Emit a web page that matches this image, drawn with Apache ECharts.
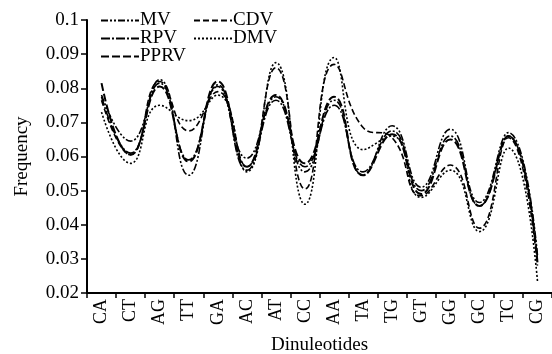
<!DOCTYPE html>
<html><head><meta charset="utf-8">
<script src="https://cdn.jsdelivr.net/npm/echarts@6/dist/echarts.min.js"></script>
<style>html,body{margin:0;padding:0;background:#fff}#c{width:552px;height:354px}</style>
</head><body><div id="c"></div>
<script>
var categories = ['CA','CT','AG','TT','GA','AC','AT','CC','AA','TA','TG','GT','GG','GC','TC','CG'];
var MV   = [0.078, 0.0645, 0.0825, 0.0545, 0.0805, 0.0595, 0.0775, 0.0555, 0.0765, 0.0545, 0.069, 0.051, 0.068, 0.0465, 0.067, 0.031];
var RPV  = [0.0775, 0.061, 0.0815, 0.059, 0.081, 0.056, 0.0765, 0.057, 0.075, 0.0555, 0.0675, 0.050, 0.066, 0.0455, 0.066, 0.030];
var PPRV = [0.0815, 0.0605, 0.0805, 0.0585, 0.082, 0.057, 0.078, 0.058, 0.0775, 0.0545, 0.0665, 0.049, 0.065, 0.0455, 0.066, 0.029];
var CDV  = [0.0765, 0.0605, 0.082, 0.0675, 0.079, 0.057, 0.086, 0.0505, 0.087, 0.0685, 0.0655, 0.0485, 0.0575, 0.039, 0.0655, 0.028];
var DMV  = [0.073, 0.058, 0.075, 0.0705, 0.078, 0.0555, 0.0875, 0.046, 0.089, 0.062, 0.066, 0.048, 0.056, 0.038, 0.0625, 0.0235];
var yTicks = [0.02, 0.1, 0.01];

var font = '"Liberation Serif", "Times New Roman", serif';
function mk(name, data, dash, w) {
  return {name: name, type: 'line', data: data, smooth: 0.5, symbol: 'none', showSymbol: false,
    lineStyle: {color: '#000', width: w, type: dash}, itemStyle: {color: '#000'}};
}
var legendBase = {orient: 'vertical', top: 6, itemWidth: 38, itemHeight: 10, itemGap: -1,
  itemStyle: {opacity: 0},
  textStyle: {fontFamily: font, fontSize: 19, color: '#000', padding: [0,0,0,-4]}};
var chart = echarts.init(document.getElementById('c'));
chart.setOption({
  animation: false,
  textStyle: {fontFamily: font},
  grid: {left: 87, right: 0, top: 20, bottom: 61, containLabel: false, outerBoundsMode: 'none'},
  legend: [
    Object.assign({}, legendBase, {data: ['MV','RPV','PPRV'], left: 95}),
    Object.assign({}, legendBase, {data: ['CDV','DMV'], left: 188})
  ],
  xAxis: {
    type: 'category', data: categories, boundaryGap: true,
    name: 'Dinuleotides', nameLocation: 'middle', nameGap: 43,
    nameTextStyle: {fontFamily: font, fontSize: 19, color: '#000'},
    axisLine: {lineStyle: {color: '#000', width: 2}},
    axisTick: {show: true, length: 5, lineStyle: {color: '#000', width: 1.5}},
    axisLabel: {rotate: 90, fontFamily: font, fontSize: 18, color: '#000', margin: 6}
  },
  yAxis: {
    type: 'value', min: yTicks[0], max: yTicks[1], interval: yTicks[2],
    name: 'Frequency', nameLocation: 'middle', nameGap: 55,
    nameTextStyle: {fontFamily: font, fontSize: 19, color: '#000'},
    axisLine: {show: true, lineStyle: {color: '#000', width: 2}},
    axisTick: {show: true, length: 6, lineStyle: {color: '#000', width: 1.5}},
    splitLine: {show: false},
    axisLabel: {fontFamily: font, fontSize: 19, color: '#000', margin: 8,
      formatter: function (v) { return String(Math.round(v * 100) / 100); }}
  },
  series: [
    mk('MV', MV, [7,2,2,2,2,2], 1.6),
    mk('RPV', RPV, [9,2,2,2], 1.6),
    mk('PPRV', PPRV, [8,3], 2),
    mk('CDV', CDV, [6,3], 1.6),
    mk('DMV', DMV, [2,2], 1.6)
  ]
});
</script></body></html>
